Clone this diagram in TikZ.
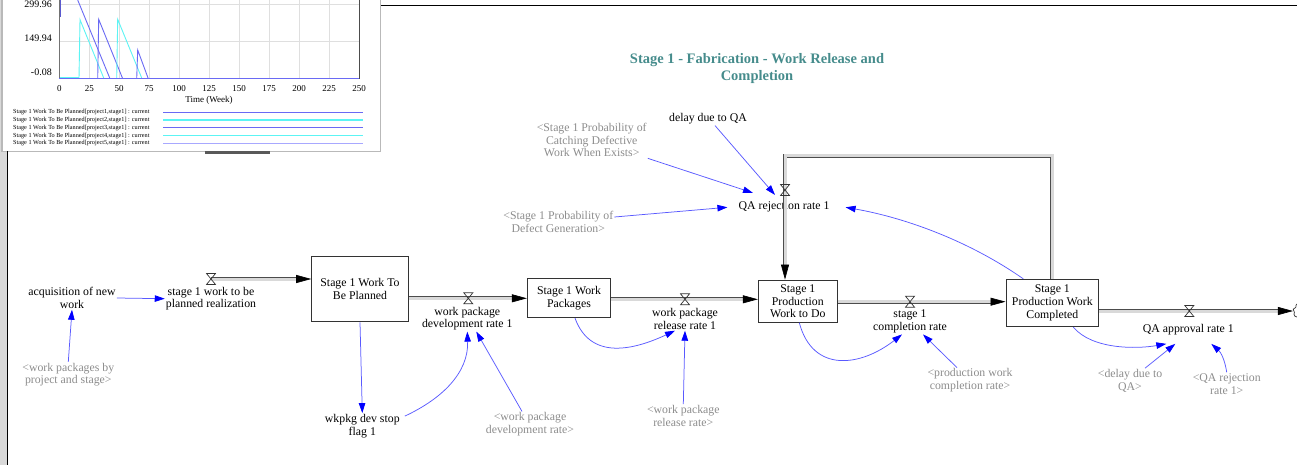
\documentclass[tikz,border=0pt]{standalone}
\usepackage{fontspec}
\setmainfont{Liberation Serif}
\usetikzlibrary{arrows.meta,positioning,shapes.symbols}
\definecolor{linkblue}{HTML}{5A5AFF}
\definecolor{tipblue}{HTML}{0000FF}
\definecolor{ghostgray}{HTML}{8C8C8C}
\definecolor{titleteal}{HTML}{468C8C}
\definecolor{plotblue}{HTML}{6A6AF4}
\definecolor{plotcyan}{HTML}{5CF4F4}
\definecolor{plotpale}{HTML}{A8A8FF}

\tikzset{
  every node/.style={font=\fontsize{11.8}{12.7}\selectfont},
  stock/.style={draw=black!80, line width=0.9pt, align=center, inner sep=0pt},
  aux/.style={align=center, inner sep=1pt},
  ghost/.style={aux, text=ghostgray},
  pipe/.style={draw=black!70, line width=0.6pt, double=gray!30, double distance=3pt},
  flowtip/.style={-{Triangle[length=15pt,width=8pt,color=black]}},
  link/.style={draw=linkblue, line width=0.75pt, -{Triangle[length=10pt,width=6.5pt,color=tipblue]}},
  valve/.pic={\draw[black!80, line width=0.7pt] (-4.5,5.5) -- (4.5,5.5) -- (-4.5,-5.5) -- (4.5,-5.5) -- cycle;},
  ticklabel/.style={font=\fontsize{9}{9}\selectfont, inner sep=0pt},
}

\begin{document}
\begin{tikzpicture}[x=1pt,y=1pt]
  \useasboundingbox (0,0) rectangle (1297,-465);

  % graph window
  \fill[gray!30] (0,0) rectangle (7,-465);
  \draw[gray!55, line width=1.5pt, fill=white] (2,2) rectangle (380.5,-151.5);
  \foreach \t in {25,50,...,250}
    \draw[gray!25] ({59.3+1.1988*\t},0) -- ({59.3+1.1988*\t},-78.7);
  \foreach \v in {4.7,41.7}
    \draw[gray!25] (59.3,-\v) -- (359,-\v);
  \draw[plotcyan, line width=1pt] (59.3,-78) -- (79,-78);
  \draw[plotblue!85!black, line width=1.3pt] (60,0) -- (60,-17);
  \draw[plotblue, line width=0.9pt] (77.7,0) -- (110,-78.7);
  \draw[plotcyan, line width=0.9pt] (79,-78.7) -- (80,-19.7) -- (104,-78.7);
  \draw[plotblue, line width=0.9pt] (97.7,-78.7) -- (98.7,-19.3) -- (122.7,-78.7);
  \draw[plotcyan, line width=0.9pt] (116.7,-78.7) -- (117.7,-19.3) -- (142,-78.7);
  \draw[plotblue, line width=0.9pt] (136.7,-78.7) -- (137.7,-50) -- (148.3,-78.7);
  \draw[black!55] (59.3,0) -- (59.3,-78.7);
  \draw[black!70] (359,0) -- (359,-78.7);
  \draw[plotblue, line width=1.6pt] (59.3,-78.7) -- (359,-78.7);
  \foreach \t in {0,25,...,250}
    \node[ticklabel] at ({59.3+1.1988*\t},-88.3) {\t};
  \node[ticklabel, font=\fontsize{10}{10}\selectfont, anchor=east] at (52,-4.7) {299.96};
  \node[ticklabel, font=\fontsize{10}{10}\selectfont, anchor=east] at (52,-38.3) {149.94};
  \node[ticklabel, font=\fontsize{10}{10}\selectfont, anchor=east] at (52,-72.7) {-0.08};
  \node[ticklabel] at (209,-100) {Time (Week)};
  \foreach \i/\col in {1/plotblue,2/plotcyan,3/plotblue,4/plotcyan,5/plotpale} {
    \node[ticklabel, font=\fontsize{6.2}{6.2}\selectfont, anchor=west] at (13,{-112.3-7.75*(\i-1)})
      {Stage 1 Work To Be Planned[project\i,stage1] : current};
    \draw[draw=\col, line width=1.4pt] (163,{-112.3-7.75*(\i-1)}) -- (363,{-112.3-7.75*(\i-1)});
  }

  % diagram window
  \draw[line width=1.6pt] (381,-5.5) -- (1297,-5.5);
  \draw[line width=1.6pt] (7.5,-151) -- (7.5,-465);
  \fill[black!65] (205,-151.5) rectangle (270,-154.5);

  \node[font=\fontsize{14.5}{16.7}\selectfont\bfseries, text=titleteal, align=center] (title) at (757,-68.3)
    {Stage 1 - Fabrication - Work Release and\\Completion};

  % Define nodes
  \node[aux]   (acq)    at (72,-298)      {acquisition of new\\work};
  \node[ghost] (wpbps)  at (68.3,-374.7)  {<work packages by\\project and stage>};
  \node[aux]   (rReal)  at (211,-298.7)   {stage 1 work to be\\planned realization};
  \node[stock, minimum width=96.7pt, minimum height=65.7pt] (B1) at (360,-289) {Stage 1 Work To\\Be Planned};
  \node[aux]   (rDev)   at (467.3,-318.7) {work package\\development rate 1};
  \node[aux]   (flag)   at (362.3,-426)   {wkpkg dev stop\\flag 1};
  \node[ghost] (wpdr)   at (530,-424.3)   {<work package\\development rate>};
  \node[stock, minimum width=83.4pt, minimum height=39.4pt] (B2) at (569,-298) {Stage 1 Work\\Packages};
  \node[aux]   (rRel)   at (685,-319)     {work package\\release rate 1};
  \node[ghost] (wprr)   at (683.3,-415.8) {<work package\\release rate>};
  \node[stock, minimum width=79pt, minimum height=42.3pt] (B3) at (797.8,-301.2) {Stage 1\\Production\\Work to Do};
  \node[aux]   (rComp)  at (910,-321.7)   {stage 1\\completion rate};
  \node[ghost] (pwcr)   at (970,-380.5)   {<production work\\completion rate>};
  \node[stock, minimum width=92.7pt, minimum height=47.4pt] (B4) at (1052.3,-303) {Stage 1\\Production Work\\Completed};
  \node[aux]   (rQAok)  at (1188.3,-329.3) {QA approval rate 1};
  \node[ghost] (dQAs)   at (1130,-380.8)  {<delay due to\\QA>};
  \node[ghost] (QArr)   at (1226.7,-383.8) {<QA rejection\\rate 1>};
  \node[aux]   (rQArej) at (784,-207.3)   {QA rejection rate 1};
  \node[aux]   (dueQA)  at (708,-119)     {delay due to QA};
  \node[ghost] (catch)  at (591.7,-140.2) {<Stage 1 Probability of\\Catching Defective\\Work When Exists>};
  \node[ghost] (defect) at (558.3,-222)   {<Stage 1 Probability of\\Defect Generation>};
  \node[cloud, draw=black!80, line width=0.7pt, cloud puffs=9, minimum width=26pt, minimum height=20pt] (sink) at (1306,-311) {};

  % flows
  \coordinate (v1) at (211,-279);
  \coordinate (v2) at (468.3,-298.3);
  \coordinate (v3) at (685,-299.3);
  \coordinate (v4) at (910,-301.7);
  \coordinate (v5) at (1189.3,-311);
  \coordinate (v6) at (785,-190);
  \coordinate (loop) at (785,-155.7);
  \draw[pipe, flowtip] (v1) -- (v1 -| B1.west);
  \draw[pipe, flowtip] (v2 -| B1.east) -- (v2 -| B2.west);
  \draw[pipe, flowtip] (v3 -| B2.east) -- (v3 -| B3.west);
  \draw[pipe, flowtip] (v4 -| B3.east) -- (v4 -| B4.west);
  \draw[pipe, flowtip] (v5 -| B4.east) -- (v5 -| sink.west);
  \draw[pipe, flowtip] (B4.north) |- (loop) -- (loop |- B3.north);
  \foreach \v in {v1,v2,v3,v4,v5,v6}
    \pic at (\v) {valve};

  % links
  \draw[link] (acq.east) -- (rReal.west);
  \draw[link] (wpbps.north) -- (acq.south);
  \draw[link] (B1.south) -- (flag.north);
  \draw[link] ([shift={(4pt,-3pt)}]flag.north east) to[out=25,in=-88] (rDev.south);
  \draw[link] ([xshift=-8pt]wpdr.north) -- ([xshift=9pt]rDev.south);
  \draw[link] ([xshift=6pt]B2.south) to[out=-70,in=-155,looseness=1.15] ([xshift=-10pt]rRel.south);
  \draw[link] (wprr.north) -- (rRel.south);
  \draw[link] ([xshift=1.5pt]B3.south) to[out=-75,in=-142,looseness=1.3] ([xshift=-8pt]rComp.south);
  \draw[link] ([xshift=-13pt]pwcr.north) -- ([xshift=13pt]rComp.south);
  \draw[link] ([xshift=21pt]B4.south) to[out=-50,in=-170,looseness=0.8] ([shift={(-22pt,-8pt)}]rQAok.south);
  \draw[link] ([xshift=15pt]dQAs.north) -- ([shift={(-13pt,-8pt)}]rQAok.south);
  \draw[link] (QArr.north) to[bend right=20] ([shift={(23pt,-8pt)}]rQAok.south);
  \draw[link] ([xshift=7pt]dueQA.south) -- ([shift={(-9pt,6pt)}]rQArej.north);
  \draw[link] (catch.south east) -- ([shift={(-31pt,8pt)}]rQArej.north);
  \draw[link] ([yshift=5pt]defect.east) -- ([xshift=-10pt]rQArej.west);
  \draw[link] ([xshift=-29pt]B4.north) to[out=145,in=-10,looseness=0.85] ([xshift=15pt]rQArej.east);
\end{tikzpicture}
\end{document}
